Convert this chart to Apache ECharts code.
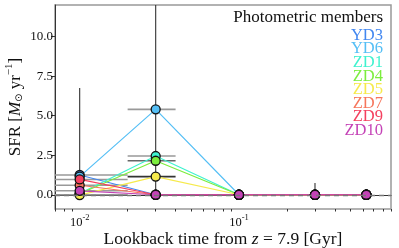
<!DOCTYPE html>
<html><head><meta charset="utf-8">
<script src="https://cdn.jsdelivr.net/npm/echarts@6/dist/echarts.min.js"></script>
<style>html,body{margin:0;padding:0;background:#fff}#c{width:399px;height:248px}</style>
</head><body><div id="c"></div>
<script>
// ---- data ----
const lookbackTimes = [0.01, 0.03, 0.1, 0.3, 0.63];
const seriesNames = ['YD3', 'YD6', 'ZD1', 'ZD4', 'ZD5', 'ZD7', 'ZD9', 'ZD10'];
const YD3  = [1.25, 0, 0, 0, 0];
const YD6  = [1.15, 5.4, 0, 0, 0];
const ZD1  = [0.08, 2.45, 0, 0, 0];
const ZD4  = [0.06, 2.15, 0, 0, 0];
const ZD5  = [-0.02, 1.15, 0, 0, 0];
const ZD7  = [0.6, 0, 0, 0, 0];
const ZD9  = [0.97, 0, 0, 0, 0];
const ZD10 = [0.25, 0, 0, 0, 0];
const yTickValues = [0, 2.5, 5, 7.5, 10];
const xTickValues = [0.01, 0.1];
const xMinorTickValues = [0.007, 0.008, 0.009, 0.02, 0.03, 0.04, 0.05, 0.06, 0.07, 0.08, 0.09,
                          0.2, 0.3, 0.4, 0.5, 0.6, 0.7, 0.8, 0.9];
// horizontal error bars: [xLow, xHigh, y]
const xErrLow  = [0.001, 0.001, 0.001, 0.001, 0.001, 0.02, 0.02, 0.02, 0.02];
const xErrHigh = [0.02, 0.02, 0.02, 0.02, 0.02, 0.04, 0.04, 0.04, 0.04];
const xErrY    = [1.25, 0.97, 0.6, 0.25, 0.0, 5.4, 2.45, 2.15, 1.15];
// vertical error bars: [x, yLow, yHigh]
const yErrX    = [0.01, 0.03, 0.3];
const yErrLow  = [0, 0, 0];
const yErrHigh = [6.75, 14, 0.75];

// ---- styles ----
const colors = ['#4287f0', '#55bff5', '#3ff2cf', '#7ced3e', '#f6ea4c', '#f6765c', '#f4405f', '#c442b6'];
const xErrColors = ['#999', '#999', '#999', '#999', '#999', '#999', '#999', '#666', '#333'];
const serif = 'Liberation Serif, Times New Roman, serif';
const seriesValues = [YD3, YD6, ZD1, ZD4, ZD5, ZD7, ZD9, ZD10];

const chart = echarts.init(document.getElementById('c'), null, {renderer: 'canvas'});

const errData = [];
xErrY.forEach((y, i) => errData.push(['h', xErrLow[i], xErrHigh[i], y, i]));
yErrX.forEach((x, i) => errData.push(['v', x, yErrLow[i], yErrHigh[i], i]));

function clampPt(p, cs) {
  return [Math.max(cs.x, Math.min(cs.x + cs.width, p[0])), Math.max(cs.y, Math.min(cs.y + cs.height, p[1]))];
}

const series = seriesNames.map((name, k) => ({
  name: name,
  type: 'line',
  xAxisIndex: 0,
  data: lookbackTimes.map((t, i) => [t, seriesValues[k][i]]),
  symbol: 'circle',
  symbolSize: 9,
  showSymbol: true,
  z: 3,
  lineStyle: {color: colors[k], width: 1.2},
  itemStyle: {color: colors[k], borderColor: '#111', borderWidth: 1.3},
  emphasis: {disabled: true}
}));

series.unshift({
  type: 'custom',
  name: 'errors',
  xAxisIndex: 0,
  z: 1,
  silent: true,
  data: errData.map(d => [d[1], d[2], d[3]]),
  encode: {x: 0, y: 2},
  renderItem: function (params, api) {
    const d = errData[params.dataIndex];
    const cs = params.coordSys;
    let p0, p1, color;
    if (d[0] === 'h') {
      p0 = api.coord([d[1], d[3]]); p1 = api.coord([d[2], d[3]]);
      color = xErrColors[d[4]];
    } else {
      p0 = api.coord([d[1], d[2]]); p1 = api.coord([d[1], d[3]]);
      color = '#333';
    }
    p0 = clampPt(p0, cs); p1 = clampPt(p1, cs);
    return {type: 'line', shape: {x1: p0[0], y1: p0[1], x2: p1[0], y2: p1[1]},
            style: {stroke: color, lineWidth: d[0] === 'h' ? 1.6 : 1.1}};
  },
  markLine: {
    silent: true, symbol: 'none', animation: false,
    label: {show: false},
    lineStyle: {type: [5, 4], color: '#777', width: 1.3},
    data: [{yAxis: 0}]
  }
});

const legends = seriesNames.map((name, k) => ({
  data: [{name: name, textStyle: {color: colors[k]}}],
  right: 16, top: 27 + k * 13.6,
  icon: 'none', itemWidth: 0, itemHeight: 0, itemGap: 0, padding: 0,
  selectedMode: false,
  textStyle: {fontFamily: serif, fontSize: 16.5, padding: 0}
}));

chart.setOption({
  animation: false,
  backgroundColor: '#fff',
  title: {
    text: 'Photometric members', right: 16, top: 9, padding: 0,
    textStyle: {fontFamily: serif, fontSize: 17, fontWeight: 'normal', color: '#111'}
  },
  legend: legends,
  grid: {left: 55, right: 8, top: 5, bottom: 39, show: true, borderColor: '#999', borderWidth: 1.5,
         containLabel: false, outerBoundsMode: 'none'},
  xAxis: [{
    type: 'log', logBase: 10, min: 0.007, max: 0.9,
    axisLine: {show: true, lineStyle: {color: '#333', width: 1}},
    axisTick: {show: true, customValues: xTickValues, length: 4, lineStyle: {color: '#333'}},
    axisLabel: {
      customValues: xTickValues, margin: 4,
      formatter: v => '{b|10}{s|' + Math.round(Math.log10(v)) + '}',
      rich: {
        b: {fontFamily: serif, fontSize: 12.5, color: '#111', verticalAlign: 'bottom', lineHeight: 16},
        s: {fontFamily: serif, fontSize: 8.5, color: '#111', verticalAlign: 'top', lineHeight: 16}
      }
    },
    splitLine: {show: false},
    name: '{n|Lookback time from }{i|z}{n| = 7.9 [Gyr]}',
    nameLocation: 'middle', nameGap: 21, nameMoveOverlap: false,
    nameTextStyle: {
      rich: {
        n: {fontFamily: serif, fontSize: 17.5, color: '#111'},
        i: {fontFamily: serif, fontSize: 17.5, fontStyle: 'italic', color: '#111'}
      }
    }
  }, {
    type: 'log', logBase: 10, min: 0.007, max: 0.9, position: 'bottom',
    axisLine: {show: false},
    axisTick: {show: true, customValues: xMinorTickValues, length: 2.5, lineStyle: {color: '#333'}},
    axisLabel: {show: false},
    splitLine: {show: false}
  }],
  yAxis: {
    type: 'value', min: -0.9, max: 12,
    axisLine: {show: true, lineStyle: {color: '#333', width: 1}},
    axisTick: {show: true, customValues: yTickValues, length: 4, lineStyle: {color: '#333'}},
    axisLabel: {
      customValues: yTickValues, margin: 2,
      formatter: v => v.toFixed(1),
      fontFamily: serif, fontSize: 13, color: '#111'
    },
    splitLine: {show: false},
    name: '{n|SFR [}{i|M}{o|⊙}{n| yr}{s|−1}{n|]}',
    nameLocation: 'middle', nameGap: 31, nameRotate: 90, nameMoveOverlap: false,
    nameTextStyle: {
      rich: {
        n: {fontFamily: serif, fontSize: 17, color: '#111', verticalAlign: 'bottom', lineHeight: 20},
        i: {fontFamily: serif, fontSize: 17, fontStyle: 'italic', color: '#111', verticalAlign: 'bottom', lineHeight: 20},
        o: {fontFamily: 'DejaVu Sans', fontSize: 10, color: '#111', verticalAlign: 'bottom', lineHeight: 20},
        s: {fontFamily: serif, fontSize: 11, color: '#111', verticalAlign: 'top', lineHeight: 20}
      }
    }
  },
  series: series
});
</script></body></html>
